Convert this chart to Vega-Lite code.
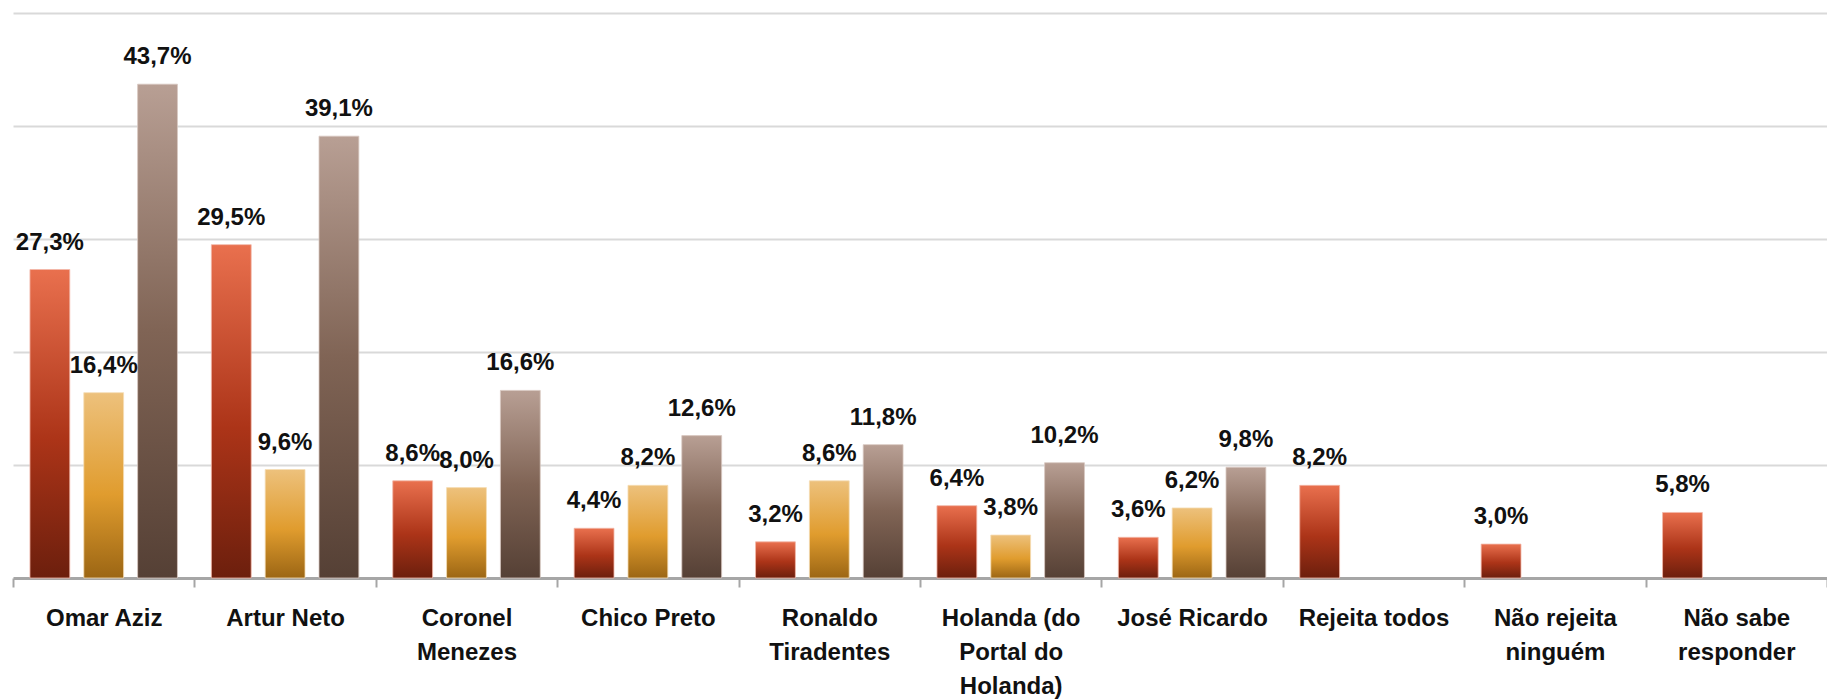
{
  "$schema": "https://vega.github.io/schema/vega-lite/v6.json",
  "autosize": {"type": "none"},
  "padding": {"left": 13, "top": 13, "right": 0, "bottom": 121},
  "width": 1814,
  "height": 565,
  "background": "white",
  "config": {"view": {"stroke": null}, "font": "Liberation Sans"},
  "data": {
    "values": [
      {"cat": "Omar Aziz", "s": "A", "v": 27.3},
      {"cat": "Omar Aziz", "s": "B", "v": 16.4},
      {"cat": "Omar Aziz", "s": "C", "v": 43.7},
      {"cat": "Artur Neto", "s": "A", "v": 29.5},
      {"cat": "Artur Neto", "s": "B", "v": 9.6},
      {"cat": "Artur Neto", "s": "C", "v": 39.1},
      {"cat": "Coronel Menezes", "s": "A", "v": 8.6},
      {"cat": "Coronel Menezes", "s": "B", "v": 8.0},
      {"cat": "Coronel Menezes", "s": "C", "v": 16.6},
      {"cat": "Chico Preto", "s": "A", "v": 4.4},
      {"cat": "Chico Preto", "s": "B", "v": 8.2},
      {"cat": "Chico Preto", "s": "C", "v": 12.6},
      {"cat": "Ronaldo Tiradentes", "s": "A", "v": 3.2},
      {"cat": "Ronaldo Tiradentes", "s": "B", "v": 8.6},
      {"cat": "Ronaldo Tiradentes", "s": "C", "v": 11.8},
      {"cat": "Holanda (do Portal do Holanda)", "s": "A", "v": 6.4},
      {"cat": "Holanda (do Portal do Holanda)", "s": "B", "v": 3.8},
      {"cat": "Holanda (do Portal do Holanda)", "s": "C", "v": 10.2},
      {"cat": "José Ricardo", "s": "A", "v": 3.6},
      {"cat": "José Ricardo", "s": "B", "v": 6.2},
      {"cat": "José Ricardo", "s": "C", "v": 9.8},
      {"cat": "Rejeita todos", "s": "A", "v": 8.2},
      {"cat": "Não rejeita ninguém", "s": "A", "v": 3.0},
      {"cat": "Não sabe responder", "s": "A", "v": 5.8}
    ]
  },
  "transform": [
    {"calculate": "replace(format(datum.v, '.1f'), '.', ',') + '%'", "as": "lbl"}
  ],
  "encoding": {
    "x": {
      "field": "cat", "type": "nominal", "sort": null,
      "scale": {"paddingInner": 0, "paddingOuter": 0},
      "axis": {
        "title": null, "labelAngle": 0,
        "labelFont": "Liberation Sans", "labelFontSize": 24, "labelFontWeight": "bold",
        "labelColor": "#111111", "labelLimit": 400, "labelLineHeight": 34,
        "labelPadding": 19, "labelBaseline": "top",
        "domainColor": "#A6A6A6", "domainWidth": 3,
        "tickBand": "extent", "tickColor": "#A6A6A6", "tickWidth": 2, "tickSize": 9,
        "labelExpr": "datum.value == 'Coronel Menezes' ? ['Coronel','Menezes'] : datum.value == 'Ronaldo Tiradentes' ? ['Ronaldo','Tiradentes'] : datum.value == 'Holanda (do Portal do Holanda)' ? ['Holanda (do','Portal do','Holanda)'] : datum.value == 'Não rejeita ninguém' ? ['Não rejeita','ninguém'] : datum.value == 'Não sabe responder' ? ['Não sabe','responder'] : datum.label"
      }
    },
    "xOffset": {
      "field": "s", "type": "nominal",
      "scale": {"domain": ["A", "B", "C"], "paddingInner": 0.26, "paddingOuter": 0.315}
    },
    "y": {
      "field": "v", "type": "quantitative",
      "scale": {"domain": [0, 50], "nice": false},
      "axis": {
        "title": null, "labels": false, "ticks": false, "domain": false,
        "grid": true, "gridColor": "#D9D9D9", "gridWidth": 2,
        "values": [10, 20, 30, 40, 50]
      }
    }
  },
  "layer": [
    {
      "transform": [{"filter": "datum.s == 'A'"}],
      "mark": {
        "type": "bar", "stroke": "#F2B8A8", "strokeWidth": 0.8,
        "color": {"gradient": "linear", "x1": 0, "y1": 0, "x2": 0, "y2": 1,
          "stops": [
            {"offset": 0, "color": "#E9704E"},
            {"offset": 0.55, "color": "#AC3418"},
            {"offset": 1, "color": "#6C1F0D"}
          ]}
      }
    },
    {
      "transform": [{"filter": "datum.s == 'B'"}],
      "mark": {
        "type": "bar", "stroke": "#F5DDB5", "strokeWidth": 0.8,
        "color": {"gradient": "linear", "x1": 0, "y1": 0, "x2": 0, "y2": 1,
          "stops": [
            {"offset": 0, "color": "#EDC17C"},
            {"offset": 0.55, "color": "#E09C2E"},
            {"offset": 1, "color": "#9C6614"}
          ]}
      }
    },
    {
      "transform": [{"filter": "datum.s == 'C'"}],
      "mark": {
        "type": "bar", "stroke": "#D8C8C0", "strokeWidth": 0.8,
        "color": {"gradient": "linear", "x1": 0, "y1": 0, "x2": 0, "y2": 1,
          "stops": [
            {"offset": 0, "color": "#B89F94"},
            {"offset": 0.5, "color": "#806455"},
            {"offset": 1, "color": "#554035"}
          ]}
      }
    },
    {
      "mark": {
        "type": "text", "baseline": "alphabetic", "dy": -20,
        "font": "Liberation Sans", "fontSize": 24, "fontWeight": "bold", "color": "#111111"
      },
      "encoding": {"text": {"field": "lbl"}}
    }
  ]
}
